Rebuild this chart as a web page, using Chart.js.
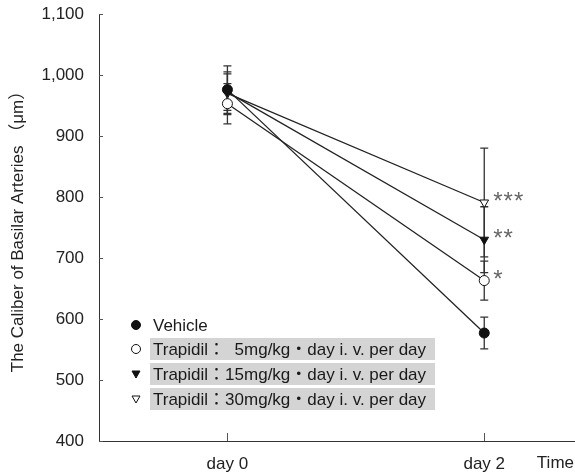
<!DOCTYPE html>
<html>
<head>
<meta charset="utf-8">
<script src="https://cdn.jsdelivr.net/npm/chart.js@4"></script>
<style>
  html, body { margin: 0; padding: 0; background: #fff; }
  #wrap { width: 575px; height: 475px; }
</style>
</head>
<body>
<div id="wrap"><canvas id="chart" width="575" height="475"></canvas></div>
<script>
// data
const days = [0, 2];
const dayLabels = ['day 0', 'day 2'];
const yTicks = [400, 500, 600, 700, 800, 900, 1000, 1100];

const seriesNames = ['Vehicle', 'Trapidil：  5mg/kg・day i. v. per day', 'Trapidil：15mg/kg・day i. v. per day', 'Trapidil：30mg/kg・day i. v. per day'];
const vehicle = [976, 577];
const trap5 = [953, 663];
const trap15 = [972, 730];
const trap30 = [970, 791];

// error (one SD) at day 0 / day 2
const vehicleErr = [39, 26];
const trap5Err = [33, 32];
const trap15Err = [30, 54];
const trap30Err = [35, 89];

const sigMarks = ['', '*', '**', '***'];

const font = '"Liberation Sans", Arial, "Noto Sans CJK JP", sans-serif';
const ink = '#222';

const makeSet = (label, values, errs, style, filled, rotation) => ({
    label: label,
    data: days.map((d, i) => ({ x: d, y: values[i] })),
    errors: errs,
    borderColor: ink,
    borderWidth: 1.3,
    pointStyle: style,
    pointRotation: rotation,
    pointRadius: 5,
    pointBackgroundColor: filled ? '#111' : '#fff',
    pointBorderColor: '#111',
    pointBorderWidth: 1,
    showLine: true,
    tension: 0,
    clip: false
});

// error bars, inward tick marks, legend and asterisks
const extras = {
    id: 'extras',
    beforeDatasetsDraw(chart) {
        const ctx = chart.ctx;
        const x = chart.scales.x, y = chart.scales.y;
        ctx.save();
        ctx.strokeStyle = '#333';
        ctx.lineWidth = 1.3;
        chart.data.datasets.forEach(ds => {
            ds.data.forEach((p, i) => {
                const px = x.getPixelForValue(p.x);
                const top = y.getPixelForValue(p.y + ds.errors[i]);
                const bot = y.getPixelForValue(p.y - ds.errors[i]);
                ctx.beginPath();
                ctx.moveTo(px, top); ctx.lineTo(px, bot);
                ctx.moveTo(px - 4, top); ctx.lineTo(px + 4, top);
                ctx.moveTo(px - 4, bot); ctx.lineTo(px + 4, bot);
                ctx.stroke();
            });
        });
        ctx.restore();
    },
    afterDraw(chart) {
        const ctx = chart.ctx;
        const x = chart.scales.x, y = chart.scales.y;
        const area = chart.chartArea;
        ctx.save();
        // x axis runs on to the right edge
        ctx.strokeStyle = '#333';
        ctx.lineWidth = 1;
        ctx.beginPath();
        ctx.moveTo(area.right - 1, area.bottom + 0.5);
        ctx.lineTo(chart.width, area.bottom + 0.5);
        ctx.stroke();

        // inward ticks
        ctx.strokeStyle = '#555';
        yTicks.forEach(v => {
            const py = Math.round(y.getPixelForValue(v)) + 0.5;
            ctx.beginPath(); ctx.moveTo(area.left, py); ctx.lineTo(area.left + 4, py); ctx.stroke();
        });
        days.forEach(d => {
            const px = Math.round(x.getPixelForValue(d)) + 0.5;
            ctx.beginPath(); ctx.moveTo(px, area.bottom); ctx.lineTo(px, area.bottom - 8); ctx.stroke();
        });

        // Time label
        ctx.fillStyle = '#222';
        ctx.font = '17px ' + font;
        ctx.textAlign = 'right';
        ctx.textBaseline = 'middle';
        ctx.fillText('Time', 574, 463);

        // asterisks next to day 2 points
        ctx.fillStyle = '#666';
        ctx.font = '24px ' + font;
        ctx.letterSpacing = '1px';
        ctx.textAlign = 'left';
        chart.data.datasets.forEach((ds, i) => {
            if (!sigMarks[i]) return;
            const p = ds.data[1];
            ctx.fillText(sigMarks[i], x.getPixelForValue(p.x) + 9, y.getPixelForValue(p.y));
        });
        ctx.letterSpacing = '0px';

        // legend
        const rows = [325, 349, 374, 399];
        ctx.font = '17px ' + font;
        chart.data.datasets.forEach((ds, i) => {
            const ry = rows[i];
            if (i > 0) {
                ctx.fillStyle = '#d4d4d4';
                ctx.fillRect(150, ry - 11, 285, 22);
            }
            ctx.fillStyle = '#1a1a1a';
            ctx.textAlign = 'left';
            ctx.fillText(ds.label, 153, ry + 1);
            ctx.fillStyle = ds.pointBackgroundColor;
            ctx.strokeStyle = '#111';
            ctx.lineWidth = 1;
            ctx.beginPath();
            if (ds.pointStyle === 'circle') {
                ctx.arc(136, ry, 4.5, 0, Math.PI * 2);
            } else {
                ctx.moveTo(132, ry - 3); ctx.lineTo(140, ry - 3); ctx.lineTo(136, ry + 4); ctx.closePath();
            }
            ctx.fill(); ctx.stroke();
        });
        ctx.restore();
    }
};

new Chart(document.getElementById('chart'), {
    type: 'scatter',
    data: {
        datasets: [
            makeSet(seriesNames[0], vehicle, vehicleErr, 'circle', true, 0),
            makeSet(seriesNames[1], trap5, trap5Err, 'circle', false, 0),
            makeSet(seriesNames[2], trap15, trap15Err, 'triangle', true, 180),
            makeSet(seriesNames[3], trap30, trap30Err, 'triangle', false, 180)
        ]
    },
    options: {
        responsive: false,
        animation: false,
        layout: { padding: { top: 14, right: 0, left: 0, bottom: 0 } },
        plugins: { legend: { display: false }, tooltip: { enabled: false } },
        scales: {
            x: {
                type: 'linear',
                min: -1.0,
                max: 2.66,
                grid: { display: false },
                border: { display: true, color: '#333', width: 1 },
                afterBuildTicks: s => { s.ticks = days.map(v => ({ value: v })); },
                afterFit: s => { s.height = 34; s.paddingLeft = 0; s.paddingRight = 0; },
                ticks: {
                    padding: 5,
                    color: '#222',
                    font: { family: font, size: 17 },
                    maxRotation: 0,
                    autoSkip: false,
                    callback: v => dayLabels[days.indexOf(v)]
                }
            },
            y: {
                min: 400,
                max: 1100,
                grid: { display: false },
                border: { display: true, color: '#333', width: 1 },
                afterBuildTicks: s => { s.ticks = yTicks.map(v => ({ value: v })); },
                afterFit: s => { s.width = 99; s.paddingTop = 0; s.paddingBottom = 0; },
                title: {
                    display: true,
                    text: 'The Caliber of Basilar Arteries （μm）',
                    color: '#222',
                    font: { family: font, size: 17 },
                    padding: { top: 8, bottom: 0 }
                },
                ticks: {
                    padding: 7,
                    color: '#222',
                    font: { family: font, size: 17 },
                    callback: v => v.toLocaleString('en-US')
                }
            }
        }
    },
    plugins: [extras]
});
</script>
</body>
</html>
